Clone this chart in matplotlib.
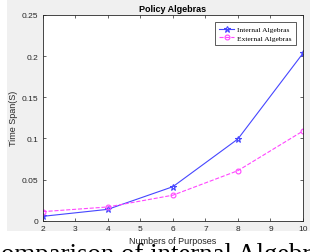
import matplotlib.pyplot as plt
from matplotlib.patches import Rectangle

purposes = [2, 4, 6, 8, 10]
internal = [0.0053, 0.0138, 0.0413, 0.0993, 0.2035]
external = [0.0110, 0.0167, 0.0310, 0.0608, 0.1090]

xticks = [2, 3, 4, 5, 6, 7, 8, 9, 10]
yticks = [0, 0.05, 0.1, 0.15, 0.2, 0.25]
yticklabels = ['0', '0.05', '0.1', '0.15', '0.2', '0.25']

fig = plt.figure(figsize=(3.10, 2.53), dpi=100, facecolor='white')

# matlab style grey figure panel
fig.patches.append(Rectangle((7 / 310, 1 - 232 / 253), 1, 232 / 253,
                             transform=fig.transFigure, facecolor='#f0f0f0',
                             edgecolor='none', zorder=-10))

ax = fig.add_axes([0.1377, 0.1237, 0.8397, 0.8131])
ax.set_facecolor('white')

ax.plot(purposes, internal, '-', color='#4646ff', lw=0.8, marker='*',
        markersize=4.5, markerfacecolor='none', markeredgewidth=0.8,
        label='Internal Algebras')
ax.plot(purposes, external, '--', color='#ff46ff', lw=0.8, marker='o',
        markersize=3.5, markerfacecolor='none', markeredgewidth=0.8,
        label='External Algebras')

ax.set_xlim(2, 10)
ax.set_ylim(0, 0.25)
ax.set_xticks(xticks)
ax.set_yticks(yticks)
ax.set_yticklabels(yticklabels)

for s in ax.spines.values():
    s.set_linewidth(0.6)
    s.set_color('#262626')
ax.tick_params(direction='in', length=2.5, width=0.5, top=True, right=True,
               labelsize=6, labelcolor='#262626', colors='#262626', pad=3)
for lab in ax.get_xticklabels() + ax.get_yticklabels():
    lab.set_family('Liberation Sans')

ax.set_title('Policy Algebras', fontsize=6.5, fontweight='bold',
             family='Liberation Sans', pad=3)
ax.set_ylabel('Time Span(S)', fontsize=6.5, family='Liberation Sans',
              color='#262626', labelpad=3)
fig.text(173 / 310, 1 - 242 / 253, 'Numbers of Purposes', fontsize=6.5,
         family='Liberation Sans', color='#262626', ha='center', va='center')

leg = ax.legend(loc='upper right', bbox_to_anchor=(0.973, 0.966),
                prop={'family': 'Liberation Serif', 'size': 5.4},
                fancybox=False, framealpha=1, edgecolor='#404040',
                handlelength=2.0, borderpad=0.55, labelspacing=0.3,
                handletextpad=0.4, borderaxespad=0)
leg.get_frame().set_linewidth(0.6)

fig.text(-17 / 310, 1 - 262 / 253, 'Comparison of internal Algebras', fontsize=19.4,
         family='Liberation Serif', color='black', ha='left', va='baseline')

fig.savefig('out.png', dpi=100, facecolor='white')
